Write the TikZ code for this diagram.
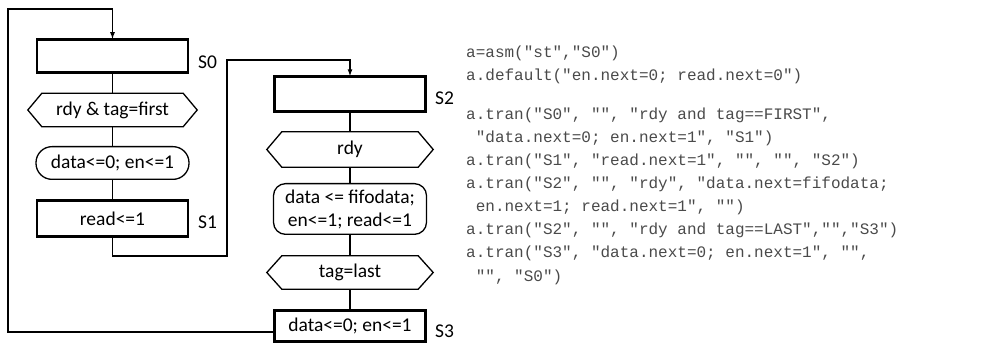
\documentclass[tikz,border=0pt]{standalone}
\usepackage{fontspec}
\setmainfont{Carlito}
\setmonofont{Liberation Mono}
\usetikzlibrary{arrows.meta,calc}
\definecolor{codegray}{HTML}{4A4A4A}
\newcommand\drawhexagon[2]{%
  \draw[thinline] (#1.west) -- ([xshift=#2pt]#1.north west) -- ([xshift=-#2pt]#1.north east)
    -- (#1.east) -- ([xshift=-#2pt]#1.south east) -- ([xshift=#2pt]#1.south west) -- cycle;}
\begin{document}
\begin{tikzpicture}[x=1pt,y=-1pt,
  every node/.style={inner sep=0pt, font=\fontsize{19.5}{22}\selectfont},
  thinline/.style={draw=black, line width=1.3pt},
  statebox/.style={draw=black, line width=2.6pt, minimum width=151pt},
  condbox/.style={minimum height=33pt},
  actbox/.style={draw=black, line width=1.3pt, minimum width=153pt},
  statelabel/.style={anchor=west},
  codeline/.style={anchor=base west, text=codegray, font=\ttfamily\fontsize{16}{23}\selectfont},
  arrowline/.style={thinline, -{Latex[length=7pt,width=5pt]}}
]
\useasboundingbox (0,0) rectangle (1000,347);

% left column
\node[statebox, minimum height=33.5pt] (S0) at (112.5,56) {};
\node[condbox, minimum width=169pt] (H1) at (112.5,110) {rdy \& tag=first};
\drawhexagon{H1}{14}
\node[actbox, minimum height=32.7pt, rounded corners=16pt] (R1) at (112.5,163) {data<=0; en<=1};
\node[statebox, minimum height=36.4pt] (S1) at (112.5,218.5) {read<=1};
\node[statelabel] (L0) at (198,62) {S0};
\node[statelabel] (L1) at (198,222) {S1};

% right column
\node[statebox, minimum height=35.4pt] (S2) at (350,94) {};
\node[condbox, minimum width=166pt, minimum height=35pt] (H2) at (350,149.5) {rdy};
\drawhexagon{H2}{15}
\node[actbox, minimum height=50.7pt, rounded corners=12pt, align=center] (R2) at (350,209) {data <= fifodata;\\[1pt]en<=1; read<=1};
\node[condbox, minimum width=166pt] (H3) at (350,272.5) {tag=last};
\drawhexagon{H3}{15}
\node[statebox, minimum height=31.4pt] (S3) at (350,326) {data<=0; en<=1};
\node[statelabel] (L2) at (435,98) {S2};
\node[statelabel] (L3) at (435,331) {S3};

% connectors
\draw[thinline] (S0) -- (H1) -- (R1) -- (S1);
\draw[thinline] (S2) -- (H2) -- (R2) -- (H3) -- (S3);
\coordinate (c1) at (227,256);
\coordinate (c2) at (227,60);
\draw[arrowline] (S1.south) |- (c1) -- (c2) -| ([yshift=-1.3pt]S2.north);
\coordinate (c3) at (8,332);
\coordinate (c4) at (8,9);
\draw[arrowline] (S3.west |- c3) -- (c3) -- (c4) -| ([yshift=-1.3pt]S0.north);

% code
\node[codeline] (k1) at (466,58) {a=asm("st","S0")};
\node[codeline] (k2) at (466,81) {a.default("en.next=0; read.next=0")};
\node[codeline] (k3) at (466,120) {a.tran("S0", "", "rdy and tag==FIRST",};
\node[codeline] (k4) at (466,143) {\phantom{a}"data.next=0; en.next=1", "S1")};
\node[codeline] (k5) at (466,166) {a.tran("S1", "read.next=1", "", "", "S2")};
\node[codeline] (k6) at (466,189) {a.tran("S2", "", "rdy", "data.next=fifodata;};
\node[codeline] (k7) at (466,212) {\phantom{a}en.next=1; read.next=1", "")};
\node[codeline] (k8) at (466,235) {a.tran("S2", "", "rdy and tag==LAST","","S3")};
\node[codeline] (k9) at (466,258) {a.tran("S3", "data.next=0; en.next=1", "",};
\node[codeline] (k10) at (466,281) {\phantom{a}"", "S0")};
\end{tikzpicture}
\end{document}
